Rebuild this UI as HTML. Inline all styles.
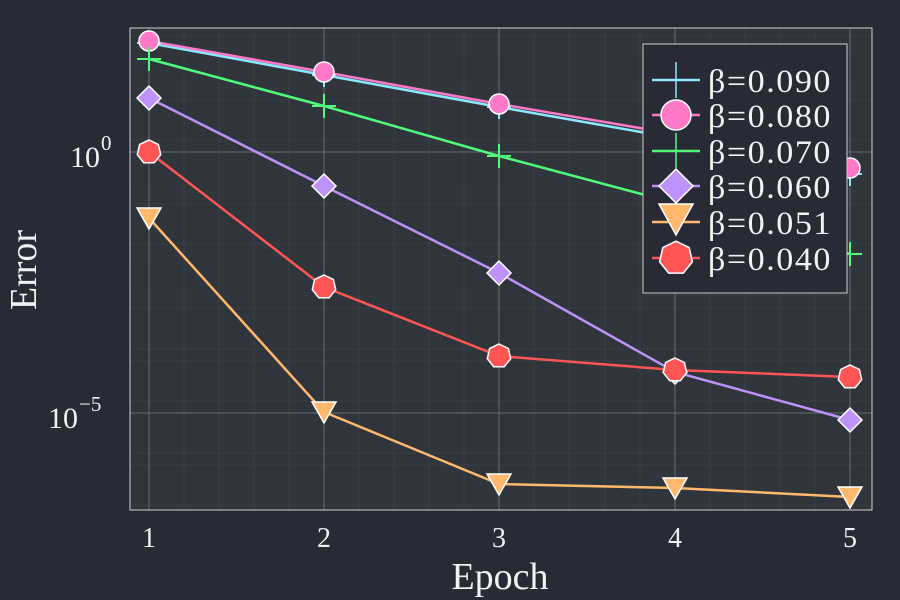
<!DOCTYPE html>
<html><head><meta charset="utf-8"><style>
html,body{margin:0;padding:0;background:#282a36;}
svg{display:block;}
text{font-family:"Liberation Serif",serif;fill:#f2f2f2;}
</style></head><body>
<svg width="900" height="600" viewBox="0 0 900 600" xmlns="http://www.w3.org/2000/svg">
<rect width="900" height="600" fill="#282a36"/>
<rect x="130" y="28" width="742" height="482" fill="#30343b"/>
<g stroke="#4a4e55" stroke-width="0.6" opacity="0.7">
<line x1="130" x2="872" y1="48" y2="48"/><line x1="130" x2="872" y1="100" y2="100"/>
<line x1="130" x2="872" y1="204" y2="204"/><line x1="130" x2="872" y1="256" y2="256"/>
<line x1="130" x2="872" y1="308" y2="308"/><line x1="130" x2="872" y1="361" y2="361"/>
<line x1="130" x2="872" y1="465" y2="465"/>
<line x1="130" x2="872" y1="36" y2="36"/><line x1="130" x2="872" y1="88" y2="88"/>
<line x1="130" x2="872" y1="140" y2="140"/><line x1="130" x2="872" y1="192" y2="192"/>
<line x1="130" x2="872" y1="244" y2="244"/><line x1="130" x2="872" y1="296" y2="296"/>
<line x1="130" x2="872" y1="349" y2="349"/><line x1="130" x2="872" y1="401" y2="401"/>
<line x1="130" x2="872" y1="453" y2="453"/><line x1="130" x2="872" y1="505" y2="505"/>
<line y1="28" y2="510" x1="184" x2="184"/><line y1="28" y2="510" x1="219" x2="219"/>
<line y1="28" y2="510" x1="254" x2="254"/><line y1="28" y2="510" x1="289" x2="289"/>
<line y1="28" y2="510" x1="359" x2="359"/><line y1="28" y2="510" x1="394" x2="394"/>
<line y1="28" y2="510" x1="429" x2="429"/><line y1="28" y2="510" x1="464" x2="464"/>
<line y1="28" y2="510" x1="534" x2="534"/><line y1="28" y2="510" x1="569" x2="569"/>
<line y1="28" y2="510" x1="605" x2="605"/><line y1="28" y2="510" x1="640" x2="640"/>
<line y1="28" y2="510" x1="710" x2="710"/><line y1="28" y2="510" x1="745" x2="745"/>
<line y1="28" y2="510" x1="780" x2="780"/><line y1="28" y2="510" x1="815" x2="815"/>
</g>
<g stroke="#666a70" stroke-width="1">
<line x1="130" x2="872" y1="152" y2="152"/><line x1="130" x2="872" y1="413" y2="413"/>
<line y1="28" y2="510" x1="149" x2="149"/><line y1="28" y2="510" x1="324" x2="324"/>
<line y1="28" y2="510" x1="499" x2="499"/><line y1="28" y2="510" x1="675" x2="675"/>
<line y1="28" y2="510" x1="850" x2="850"/>
</g>
<rect x="130" y="28" width="742" height="482" fill="none" stroke="#cfcfcf" stroke-width="1"/>
<g fill="none" stroke-width="2.5">
<polyline stroke="#8be9fd" points="149,43 324,75 499,107 675,138 850,174"/>
<polyline stroke="#ff79c6" points="149,41 324,72 499,104 675,134 850,168"/>
<polyline stroke="#50fa7b" points="149,59 324,106 499,156 675,203 850,254"/>
<polyline stroke="#bd93f9" points="149,98 324,186 499,273 675,372 850,420"/>
<polyline stroke="#ffb86c" points="149,218 324,412 499,484 675,488 850,497"/>
<polyline stroke="#ff5555" points="149,152 324,287 499,356 675,370 850,377"/>
</g>
<g stroke="#8be9fd" stroke-width="2">
<path d="M137,43h24M149,31v24M312,75h24M324,63v24M487,107h24M499,95v24M838,174h24M850,162v24"/>
</g>
<g fill="#ff79c6" stroke="#fff" stroke-width="1.5">
<circle cx="149" cy="41" r="10"/><circle cx="324" cy="72" r="10"/><circle cx="499" cy="104" r="10"/><circle cx="850" cy="168" r="10"/>
</g>
<g stroke="#50fa7b" stroke-width="2">
<path d="M137,59h24M149,47v24M312,106h24M324,94v24M487,156h24M499,144v24M838,254h24M850,242v24"/>
</g>
<g fill="#bd93f9" stroke="#fff" stroke-width="1.5">
<path d="M149,86l12,12l-12,12l-12,-12z"/><path d="M324,174l12,12l-12,12l-12,-12z"/><path d="M499,261l12,12l-12,12l-12,-12z"/><path d="M675,360l12,12l-12,12l-12,-12z"/><path d="M850,408l12,12l-12,12l-12,-12z"/>
</g>
<g fill="#ffb86c" stroke="#fff" stroke-width="1.5">
<path d="M137,208h24l-12,21z"/><path d="M312,402h24l-12,21z"/><path d="M487,474h24l-12,21z"/><path d="M663,478h24l-12,21z"/><path d="M838,487h24l-12,21z"/>
</g>
<g fill="#ff5555" stroke="#fff" stroke-width="1.5">
<path d="M0,-12L9.4,-7.5L11.7,2.7L5.2,10.8L-5.2,10.8L-11.7,2.7L-9.4,-7.5Z" transform="translate(149,152)"/>
<path d="M0,-12L9.4,-7.5L11.7,2.7L5.2,10.8L-5.2,10.8L-11.7,2.7L-9.4,-7.5Z" transform="translate(324,287)"/>
<path d="M0,-12L9.4,-7.5L11.7,2.7L5.2,10.8L-5.2,10.8L-11.7,2.7L-9.4,-7.5Z" transform="translate(499,356)"/>
<path d="M0,-12L9.4,-7.5L11.7,2.7L5.2,10.8L-5.2,10.8L-11.7,2.7L-9.4,-7.5Z" transform="translate(675,370)"/>
<path d="M0,-12L9.4,-7.5L11.7,2.7L5.2,10.8L-5.2,10.8L-11.7,2.7L-9.4,-7.5Z" transform="translate(850,377)"/>
</g>
<rect x="643" y="44" width="204" height="249" fill="#282a36" stroke="#cfcfcf" stroke-width="1"/>
<g stroke-width="2.5">
<line x1="652" x2="700" y1="80" y2="80" stroke="#8be9fd"/><line x1="676" x2="676" y1="62" y2="98" stroke="#8be9fd" stroke-width="1.5"/>
<line x1="652" x2="700" y1="115" y2="115" stroke="#ff79c6"/>
<circle cx="676" cy="115" r="15" fill="#ff79c6" stroke="#fff" stroke-width="1.5"/>
<line x1="652" x2="700" y1="151" y2="151" stroke="#50fa7b"/><line x1="676" x2="676" y1="133" y2="168" stroke="#50fa7b" stroke-width="1.5"/>
<line x1="652" x2="700" y1="186" y2="186" stroke="#bd93f9"/>
<path d="M676,169l17,17l-17,17l-17,-17z" fill="#bd93f9" stroke="#fff" stroke-width="1.5"/>
<line x1="652" x2="700" y1="222" y2="222" stroke="#ffb86c"/>
<path d="M659,204h34l-17,31z" fill="#ffb86c" stroke="#fff" stroke-width="1.5"/>
<line x1="652" x2="700" y1="258" y2="258" stroke="#ff5555"/>
<path d="M0,-12L9.4,-7.5L11.7,2.7L5.2,10.8L-5.2,10.8L-11.7,2.7L-9.4,-7.5Z" transform="translate(676,258) scale(1.4)" fill="#ff5555" stroke="#fff" stroke-width="1.1"/>
</g>
<g font-size="33" letter-spacing="1.5">
<text x="708" y="92" textLength="124" lengthAdjust="spacingAndGlyphs">β=0.090</text>
<text x="708" y="127" textLength="124" lengthAdjust="spacingAndGlyphs">β=0.080</text>
<text x="708" y="163" textLength="124" lengthAdjust="spacingAndGlyphs">β=0.070</text>
<text x="708" y="198" textLength="124" lengthAdjust="spacingAndGlyphs">β=0.060</text>
<text x="708" y="234" textLength="124" lengthAdjust="spacingAndGlyphs">β=0.051</text>
<text x="708" y="270" textLength="124" lengthAdjust="spacingAndGlyphs">β=0.040</text>
</g>
<g font-size="28" text-anchor="middle">
<text x="149" y="547">1</text><text x="324" y="547">2</text><text x="499" y="547">3</text><text x="675" y="547">4</text><text x="850" y="547">5</text>
</g>
<text x="70" y="167" font-size="30">10</text><text x="101" y="150" font-size="21">0</text>
<text x="48" y="428" font-size="30">10</text><text x="79" y="411" font-size="21">−5</text>
<text x="500" y="589" font-size="38" text-anchor="middle">Epoch</text>
<text transform="translate(36,270) rotate(-90)" font-size="38" text-anchor="middle">Error</text>
</svg>
</body></html>
